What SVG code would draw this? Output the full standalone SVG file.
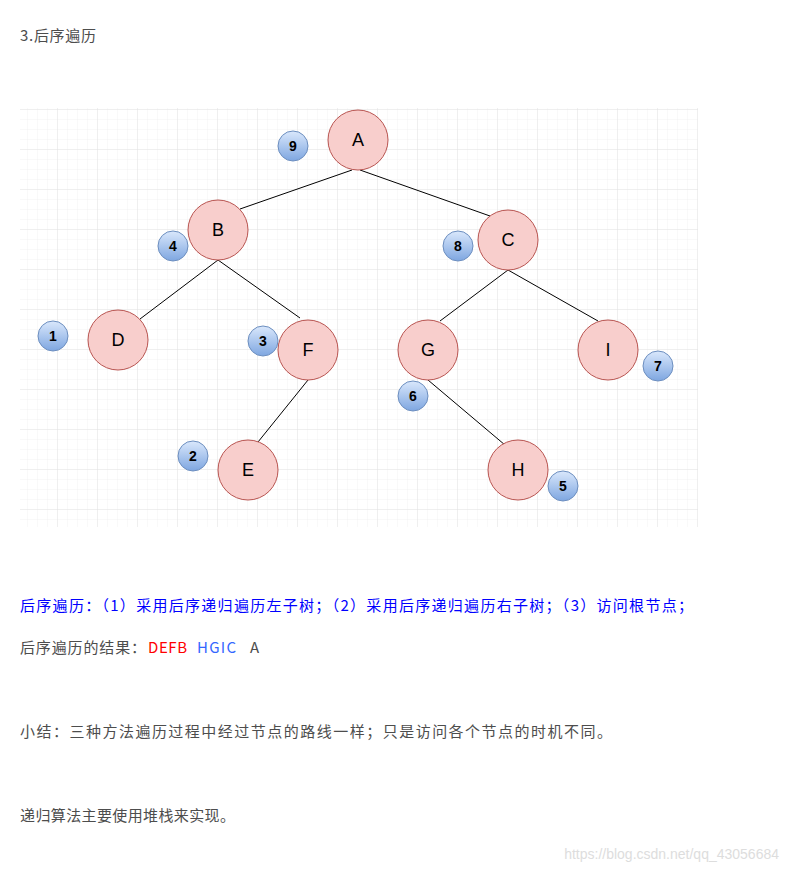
<svg xmlns="http://www.w3.org/2000/svg" width="787" height="872" viewBox="0 0 787 872">
<defs>
<pattern id="minor" x="18" y="110" width="10" height="10" patternUnits="userSpaceOnUse"><path d="M10 0V10H0" fill="none" stroke="#f2f2f2" stroke-width="1"/></pattern>
<pattern id="major" x="18" y="110" width="40" height="40" patternUnits="userSpaceOnUse"><path d="M40 0V40H0" fill="none" stroke="#e4e4e4" stroke-width="1"/></pattern>
<linearGradient id="bg" x1="0" y1="0" x2="0" y2="1"><stop offset="0" stop-color="#dae8fc"/><stop offset="1" stop-color="#7ea6e0"/></linearGradient>
</defs>
<style>
.n{fill:#f8cecc;stroke:#b85450;stroke-width:1}
.nt{font-family:"Liberation Sans",Arial,sans-serif;font-size:18px;fill:#000;text-anchor:middle}
.b{fill:url(#bg);stroke:#6c8ebf;stroke-width:1}
.bt{font-family:"Liberation Sans",Arial,sans-serif;font-size:14px;font-weight:bold;fill:#000;text-anchor:middle}
.e{stroke:#000;stroke-width:1;fill:none}
.t{font-family:"Noto Sans CJK SC","Liberation Sans",sans-serif;font-size:15px;fill:#4d4d4d}
</style>
<rect width="787" height="872" fill="#fff"/>
<text class="t" x="20" y="41" textLength="76">3.后序遍历</text>
<rect x="20" y="108" width="678" height="419" fill="url(#minor)"/>
<rect x="20" y="108" width="678" height="419" fill="url(#major)"/>
<g id="connectors">
<line class="e" x1="352" y1="170" x2="240" y2="209"/>
<line class="e" x1="360" y1="170" x2="490" y2="216"/>
<line class="e" x1="218" y1="260" x2="140" y2="319"/>
<line class="e" x1="218" y1="260" x2="300" y2="318"/>
<line class="e" x1="508" y1="270" x2="440" y2="321"/>
<line class="e" x1="508" y1="270" x2="598" y2="321"/>
<line class="e" x1="308" y1="380" x2="258" y2="442"/>
<line class="e" x1="428" y1="380" x2="505" y2="445"/>
</g>
<g id="A"><circle class="n" cx="358" cy="140" r="30"/><text class="nt" x="358" y="146">A</text></g>
<g id="B"><circle class="n" cx="218" cy="230" r="30"/><text class="nt" x="218" y="236">B</text></g>
<g id="C"><circle class="n" cx="508" cy="240" r="30"/><text class="nt" x="508" y="246">C</text></g>
<g id="D"><circle class="n" cx="118" cy="340" r="30"/><text class="nt" x="118" y="346">D</text></g>
<g id="F"><circle class="n" cx="308" cy="350" r="30"/><text class="nt" x="308" y="356">F</text></g>
<g id="G"><circle class="n" cx="428" cy="350" r="30"/><text class="nt" x="428" y="356">G</text></g>
<g id="I"><circle class="n" cx="608" cy="350" r="30"/><text class="nt" x="608" y="356">I</text></g>
<g id="E"><circle class="n" cx="248" cy="470" r="30"/><text class="nt" x="248" y="476">E</text></g>
<g id="H"><circle class="n" cx="518" cy="470" r="30"/><text class="nt" x="518" y="476">H</text></g>
<g id="b9"><circle class="b" cx="293" cy="146" r="15"/><text class="bt" x="293" y="151">9</text></g>
<g id="b4"><circle class="b" cx="173" cy="246" r="15"/><text class="bt" x="173" y="251">4</text></g>
<g id="b8"><circle class="b" cx="458" cy="246" r="15"/><text class="bt" x="458" y="251">8</text></g>
<g id="b1"><circle class="b" cx="53" cy="336" r="15"/><text class="bt" x="53" y="341">1</text></g>
<g id="b3"><circle class="b" cx="263" cy="341" r="15"/><text class="bt" x="263" y="346">3</text></g>
<g id="b2"><circle class="b" cx="193" cy="456" r="15"/><text class="bt" x="193" y="461">2</text></g>
<g id="b6"><circle class="b" cx="413" cy="396" r="15"/><text class="bt" x="413" y="401">6</text></g>
<g id="b5"><circle class="b" cx="563" cy="486" r="15"/><text class="bt" x="563" y="491">5</text></g>
<g id="b7"><circle class="b" cx="658" cy="366" r="15"/><text class="bt" x="658" y="371">7</text></g>
<text class="t" x="20" y="611" textLength="673" style="fill:#0000ff">后序遍历：（1）采用后序递归遍历左子树；（2）采用后序递归遍历右子树；（3）访问根节点；</text>
<text class="t" x="20" y="653" textLength="126">后序遍历的结果：</text>
<text class="t" x="148" y="653" textLength="39" fill="#ff0000" style="fill:#ff0000">DEFB</text>
<text class="t" x="197" y="653" textLength="39" style="fill:#3366ff">HGIC</text>
<text class="t" x="250" y="653">A</text>
<text class="t" x="20" y="737" textLength="592">小结：三种方法遍历过程中经过节点的路线一样；只是访问各个节点的时机不同。</text>
<text class="t" x="20" y="821" textLength="215">递归算法主要使用堆栈来实现。</text>
<text x="779" y="859" text-anchor="end" style="font-family:'Liberation Sans',sans-serif;font-size:14px;fill:#dddddd">https://blog.csdn.net/qq_43056684</text>
</svg>
